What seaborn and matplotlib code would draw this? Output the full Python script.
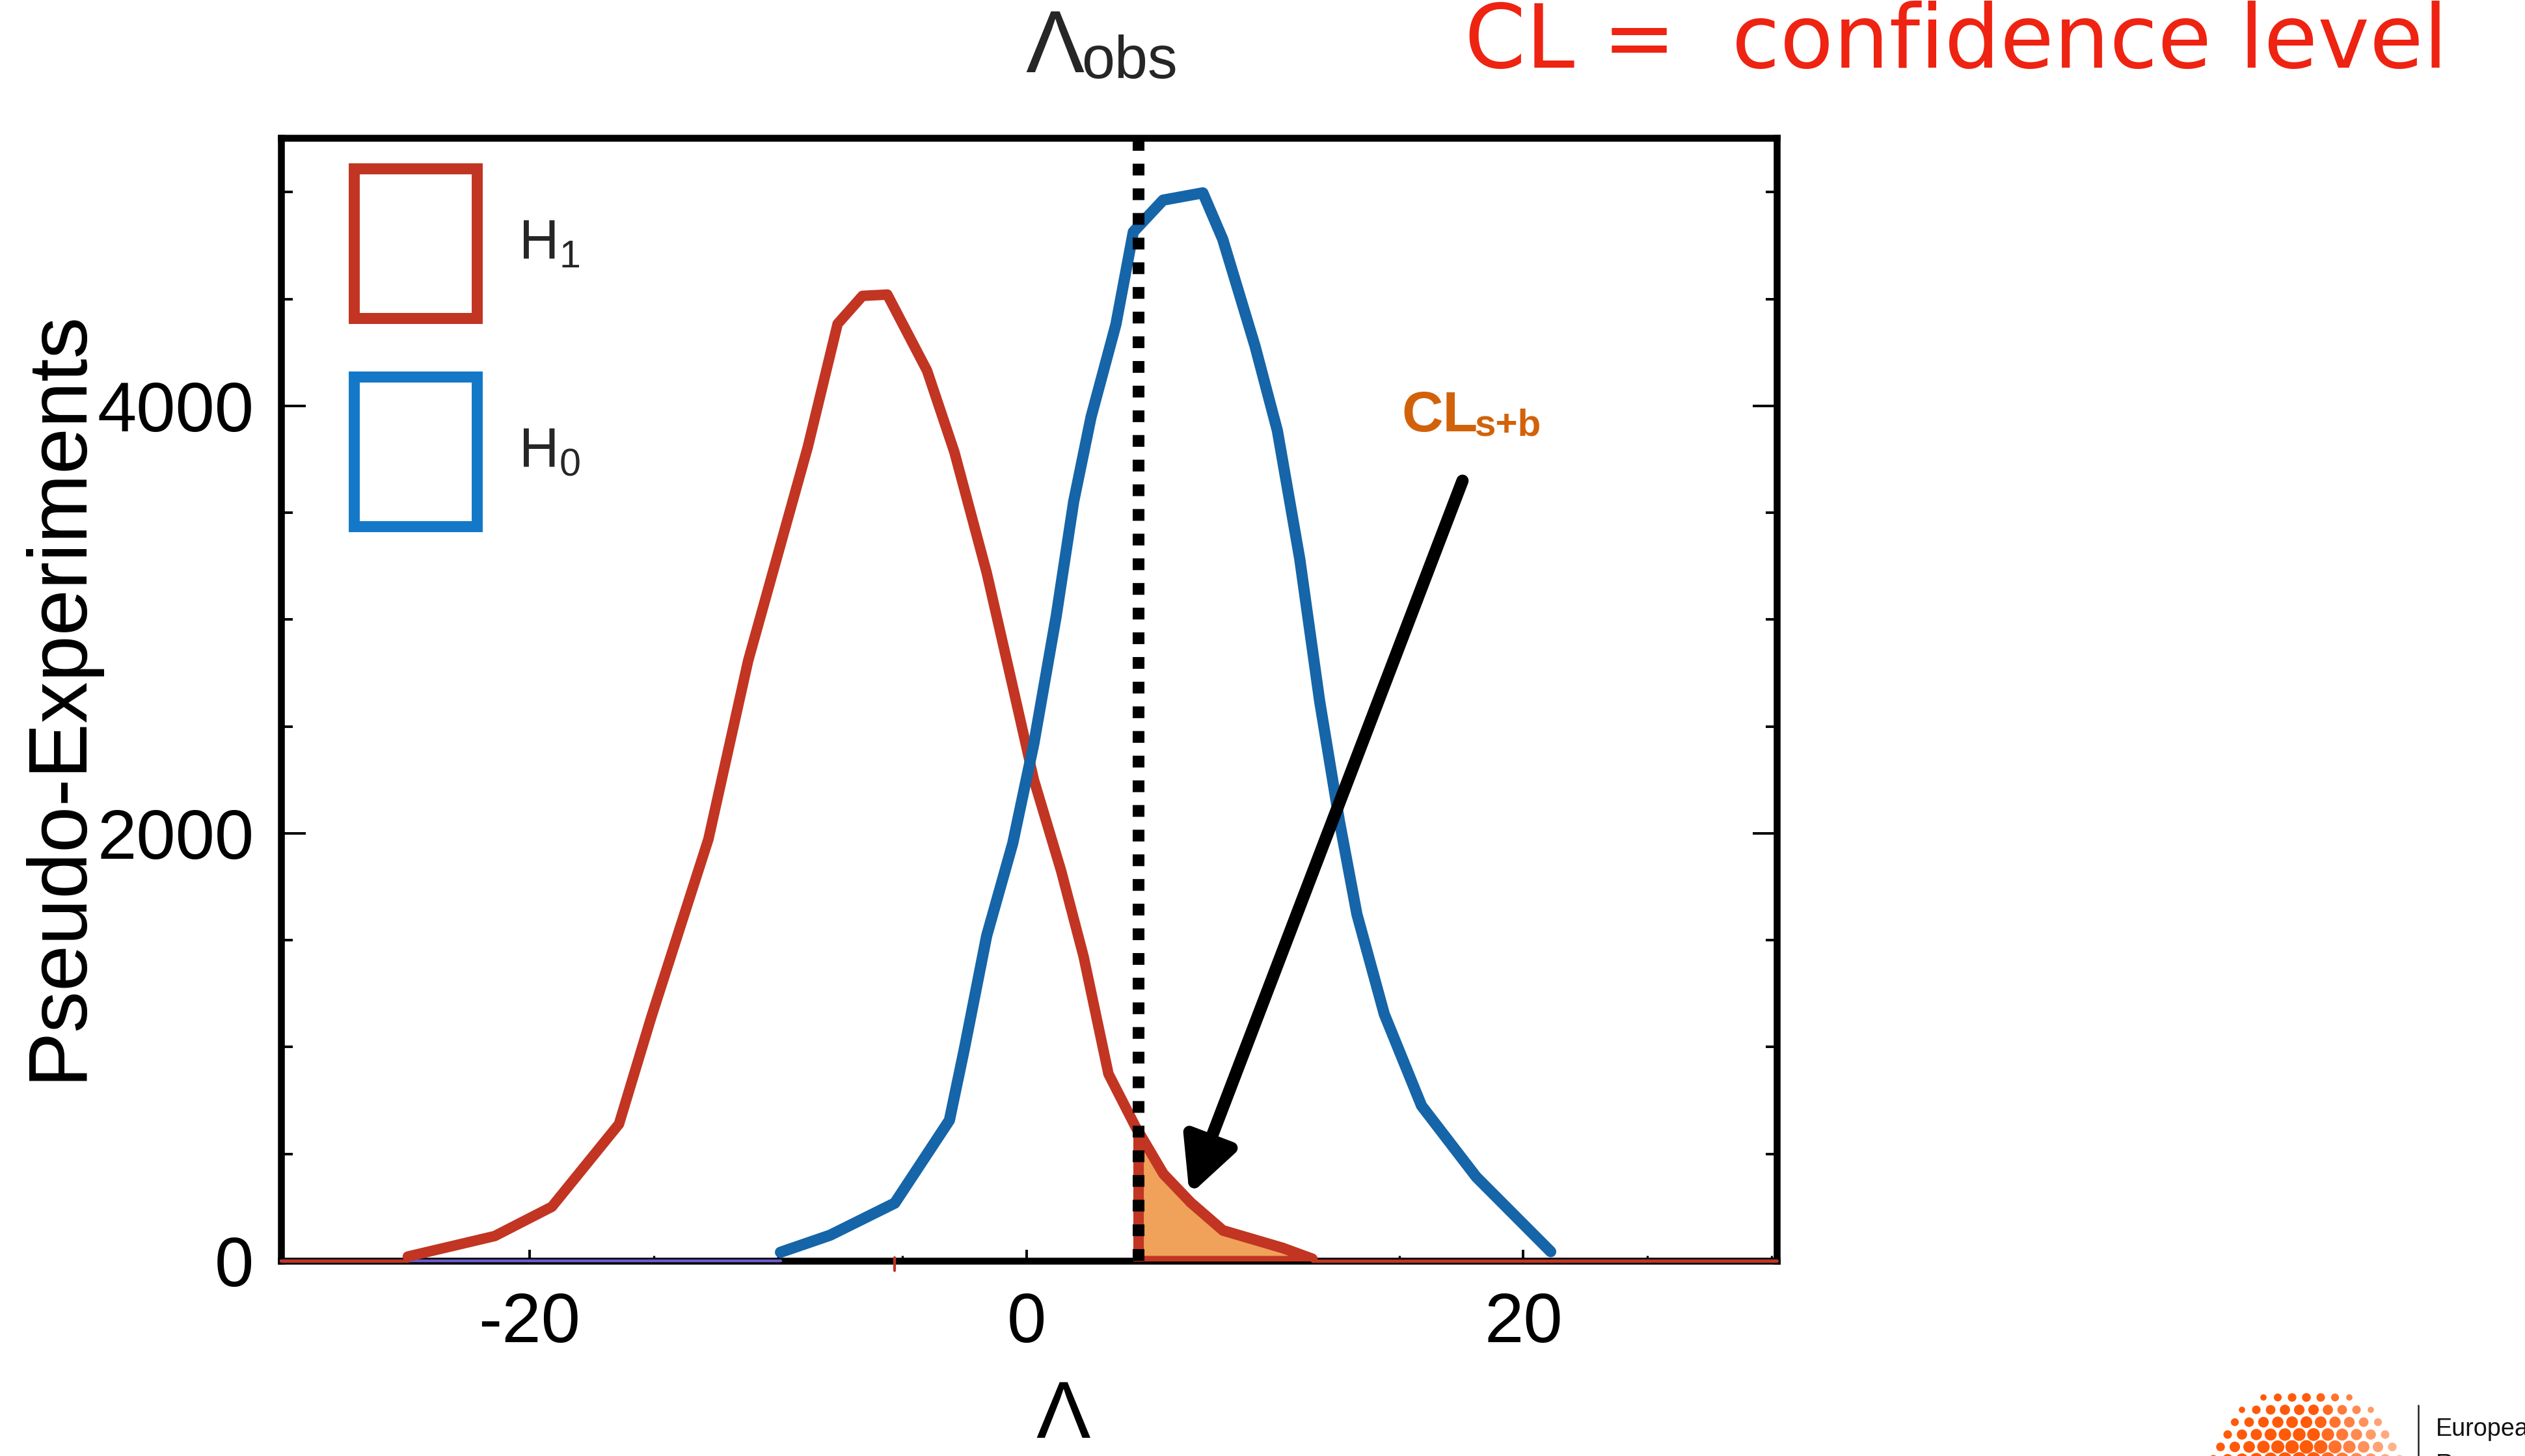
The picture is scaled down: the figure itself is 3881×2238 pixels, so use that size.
import numpy as np
import pandas as pd
import matplotlib
matplotlib.use("Agg")
import matplotlib.pyplot as plt
import seaborn as sns
from matplotlib.patches import Patch
from matplotlib.lines import Line2D
from matplotlib.ticker import MultipleLocator

# Test statistic distributions from pseudo-experiments
lam_h1 = [-24.9, -21.4, -19.1, -16.4, -15.1, -12.8, -11.2, -8.8, -7.6, -6.6,
          -5.6, -4.0, -2.9, -1.6, -0.55, 0.3, 1.4, 2.3, 3.3, 4.4,
          5.5, 6.6, 7.9, 10.3, 11.5]
n_h1 = [20, 116, 253, 640, 1140, 1973, 2808, 3808, 4384, 4515,
        4521, 4165, 3784, 3220, 2686, 2250, 1823, 1424, 875, 625,
        408, 274, 143, 61, 10]

lam_h0 = [-9.9, -7.9, -5.3, -3.1, -2.5, -1.6, -0.55, 0.3, 1.2, 1.9,
          2.6, 3.6, 4.3, 5.5, 7.1, 7.9, 9.2, 10.1, 11.0, 11.8,
          12.6, 13.3, 14.4, 15.9, 18.1, 21.1]
n_h0 = [40, 120, 270, 658, 991, 1521, 1954, 2421, 3018, 3552,
        3948, 4381, 4814, 4963, 4997, 4780, 4280, 3884, 3284, 2619,
        2055, 1622, 1155, 726, 393, 43]

lam_obs = 4.5
lam_exp = -5.3

x_ticks = [-20, 0, 20]
y_ticks = [0, 2000, 4000]

RED = "#c23522"
BLUE = "#1565a8"
BLUE_LEG = "#1478c8"
ORANGE_FILL = "#f0a15a"
ORANGE_TXT = "#d2620a"
TITLE_RED = "#ee2311"
LOGO_ORANGE = "#ff5a0a"

sns.set_theme(style="ticks")
plt.rcParams["font.family"] = ["Liberation Sans", "DejaVu Sans"]
plt.rcParams["mathtext.fontset"] = "custom"
plt.rcParams["mathtext.rm"] = "Liberation Sans"

W, H = 3881, 2238
fig = plt.figure(figsize=(W / 200, H / 200), dpi=200)
fig.patch.set_facecolor("white")
ax = fig.add_axes([432 / W, 1 - 1938 / H, 2299 / W, 1726 / H])
ax.set_facecolor("white")

df1 = pd.DataFrame({"lam": lam_h1, "n": n_h1})
df0 = pd.DataFrame({"lam": lam_h0, "n": n_h0})

# thin zero-level tails of both histograms
ax.plot([-30, lam_h0[0]], [0, 0], color="#6a5acd", lw=1.6, zorder=2.6, clip_on=False)
ax.plot([lam_h0[-1], 30.2], [0, 0], color="#6a5acd", lw=1.6, zorder=2.6, clip_on=False)
ax.plot([-30, lam_h1[0]], [0, 0], color=RED, lw=1.8, zorder=2.7, clip_on=False)
ax.plot([lam_h1[-1], 30.2], [0, 0], color=RED, lw=1.8, zorder=2.7, clip_on=False)

sns.lineplot(data=df1, x="lam", y="n", ax=ax, color=RED, lw=5.8,
             estimator=None, sort=False, zorder=3)
sns.lineplot(data=df0, x="lam", y="n", ax=ax, color=BLUE, lw=6.2,
             estimator=None, sort=False, zorder=3)

# tail of H1 beyond the observed value
x_tail = [lam_obs] + [v for v in lam_h1 if v > lam_obs]
y_tail = [float(np.interp(lam_obs, lam_h1, n_h1))] + [n for v, n in zip(lam_h1, n_h1) if v > lam_obs]
ax.fill_between(x_tail, 0, y_tail, facecolor=ORANGE_FILL, edgecolor=RED,
                lw=5.8, zorder=3.5)

# observed value
ax.axvline(lam_obs, color="black", lw=6.5, linestyle=(0, (1, 1.1)),
           dash_capstyle="butt", zorder=4)

# expected marker below the axis
ax.plot([lam_exp, lam_exp], [-46, 15], color=RED, lw=1.5, clip_on=False, zorder=5)

# CL_{s+b} annotation
ax.annotate("", xy=(6.56, 308), xytext=(17.55, 3650),
            arrowprops=dict(arrowstyle="-|>,head_length=1.0,head_width=0.5",
                            lw=6.8, color="black", mutation_scale=25,
                            shrinkA=0, shrinkB=0),
            zorder=6)
ax.text(15.1, 3881, "CL", fontsize=31.7, fontweight="bold", color=ORANGE_TXT,
        va="baseline", ha="left")
ax.text(18.05, 3860, "s+b", fontsize=21, fontweight="bold", color=ORANGE_TXT,
        va="baseline", ha="left")

ax.set_xlim(-30, 30.2)
ax.set_ylim(0, 5254)
ax.set_xticks(x_ticks)
ax.set_yticks(y_ticks)
ax.set_xticklabels([str(v) for v in x_ticks])
ax.set_yticklabels([str(v) for v in y_ticks])
ax.xaxis.set_minor_locator(MultipleLocator(5))
ax.yaxis.set_minor_locator(MultipleLocator(500))
ax.tick_params(axis="both", which="both", direction="in", right=True, top=False,
               labelsize=39, colors="black")
ax.tick_params(axis="y", which="major", length=13.5, width=1.4, pad=15)
ax.tick_params(axis="y", which="minor", length=6.3, width=1.4)
ax.tick_params(axis="x", which="major", length=6, width=1.4, pad=17)
ax.tick_params(axis="x", which="minor", length=3, width=1.2)

for s in ax.spines.values():
    s.set_visible(True)
    s.set_color("black")
    s.set_linewidth(3.8)

ax.set_ylabel("Pseudo-Experiments", fontsize=46, color="black")
ax.yaxis.set_label_coords(-0.1225, 0.504)
ax.set_xlabel("Λ", fontsize=45, color="black")
ax.xaxis.set_label_coords(0.523, -0.1054)

handles = [Patch(facecolor="none", edgecolor=RED, linewidth=6.1, joinstyle="miter"),
           Patch(facecolor="none", edgecolor=BLUE_LEG, linewidth=6.1, joinstyle="miter")]
ax.legend(handles, [r"H$_\mathregular{1}$", r"H$_\mathregular{0}$"],
          loc="upper left", bbox_to_anchor=(0.0485, 0.9725), frameon=False,
          fontsize=30.5, handlelength=2.24, handleheight=3.80,
          labelspacing=1.06, handletextpad=0.75, borderpad=0, borderaxespad=0)

# header texts
fig.text(1576 / W, 1 - 111 / H, "Λ", fontsize=48.6, va="baseline", ha="left")
fig.text(1662 / W, 1 - 120 / H, "obs", fontsize=33, va="baseline", ha="left")
fig.text(3007 / W, 1 - 104 / H, "CL =  confidence level", fontsize=48.5,
         color=TITLE_RED, va="baseline", ha="center", family=["DejaVu Sans"])

# funding logo in the lower right corner
lax = fig.add_axes([3340 / W, 0, 541 / W, 120 / H])
lax.set_xlim(3340, 3881)
lax.set_ylim(H, H - 120)
lax.axis("off")
cx, cy, rad = 3545.0, 2300.0, 170.0
gx, gy = np.meshgrid(np.arange(-8, 9), np.arange(-9, 1))
px = cx + gx * 22.0 + (gy % 2) * 11.0
py = cy + gy * 19.0
rr = np.hypot(px - cx, py - cy) / rad
keep = rr < 1.0
px, py, rr = px[keep], py[keep], rr[keep]
sizes = 75 * (1 - rr) ** 0.6 + 4
alphas = np.clip(1.05 - np.clip((px - cx) / rad, 0, 1) * 0.75, 0.25, 1.0)
cols = [matplotlib.colors.to_rgba(LOGO_ORANGE, a) for a in alphas]
lax.scatter(px, py, s=sizes, c=cols, linewidths=0, clip_on=False)
lax.add_line(Line2D([3717, 3717], [2160, 2238], color="#222222", lw=0.9))
fig.text(3744 / W, 1 - 2207 / H, "European", fontsize=13.6, color="#111111",
         va="baseline", ha="left")
fig.text(3744 / W, 1 - 2262 / H, "Research", fontsize=13.6, color="#111111",
         va="baseline", ha="left")

fig.savefig("out.png", dpi=200, facecolor="white")
